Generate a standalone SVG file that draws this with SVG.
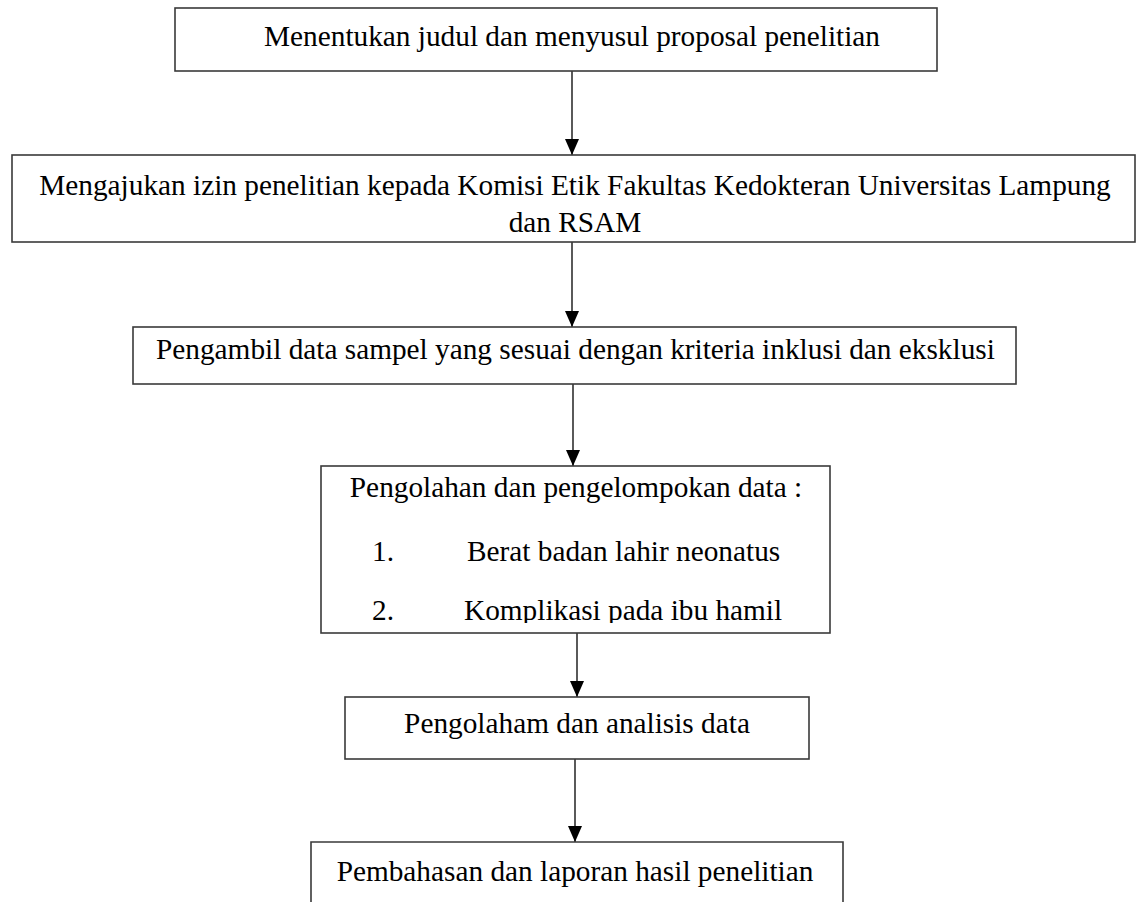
<svg xmlns="http://www.w3.org/2000/svg" width="1144" height="902" viewBox="0 0 1144 902">
<defs>
<style>
.box{fill:#fff;stroke:#3a3a3a;stroke-width:1.6}
.t{font-family:"Liberation Serif","Times New Roman",serif;font-size:29.3px;fill:#000}
.m{text-anchor:middle}
.c{stroke:#000;stroke-width:1.3;fill:none}
</style>
<marker id="ah" markerWidth="16" markerHeight="14" refX="16" refY="7" orient="auto" markerUnits="userSpaceOnUse" viewBox="0 0 16 14">
<path d="M0,0 L16,7 L0,14 Z" fill="#000"/>
</marker>
<clipPath id="clip4"><rect x="321" y="466" width="509" height="157"/></clipPath>
</defs>
<rect width="1144" height="902" fill="#fff"/>
<g id="connectors">
<line class="c" x1="572" y1="71" x2="572" y2="155" marker-end="url(#ah)"/>
<line class="c" x1="572" y1="242" x2="572" y2="327" marker-end="url(#ah)"/>
<line class="c" x1="573" y1="384" x2="573" y2="466" marker-end="url(#ah)"/>
<line class="c" x1="577" y1="633" x2="577" y2="697" marker-end="url(#ah)"/>
<line class="c" x1="575" y1="759" x2="575" y2="842" marker-end="url(#ah)"/>
</g>
<g id="n1">
<rect class="box" x="175" y="8" width="762" height="63"/>
<text class="t m" x="572" y="46">Menentukan judul dan menyusul proposal penelitian</text>
</g>
<g id="n2">
<rect class="box" x="12" y="155" width="1123" height="87"/>
<text class="t m" x="575" y="195">Mengajukan izin penelitian kepada Komisi Etik Fakultas Kedokteran Universitas Lampung</text>
<text class="t m" x="575" y="232">dan RSAM</text>
</g>
<g id="n3">
<rect class="box" x="133" y="327" width="883" height="57"/>
<text class="t" x="156" y="359">Pengambil data sampel yang sesuai dengan kriteria inklusi dan eksklusi</text>
</g>
<g id="n4">
<rect class="box" x="321" y="466" width="509" height="167"/>
<g clip-path="url(#clip4)">
<text class="t m" x="576" y="497">Pengolahan dan pengelompokan data :</text>
<text class="t" x="372" y="561">1.</text>
<text class="t" x="467" y="561">Berat badan lahir neonatus</text>
<text class="t" x="372" y="620">2.</text>
<text class="t" x="464" y="620">Komplikasi pada ibu hamil</text>
</g>
</g>
<g id="n5">
<rect class="box" x="345" y="697" width="464" height="62"/>
<text class="t m" x="577" y="733">Pengolaham dan analisis data</text>
</g>
<g id="n6">
<path class="box" d="M311,903 L311,842 L843,842 L843,903"/>
<text class="t m" x="575" y="881">Pembahasan dan laporan hasil penelitian</text>
</g>
</svg>
